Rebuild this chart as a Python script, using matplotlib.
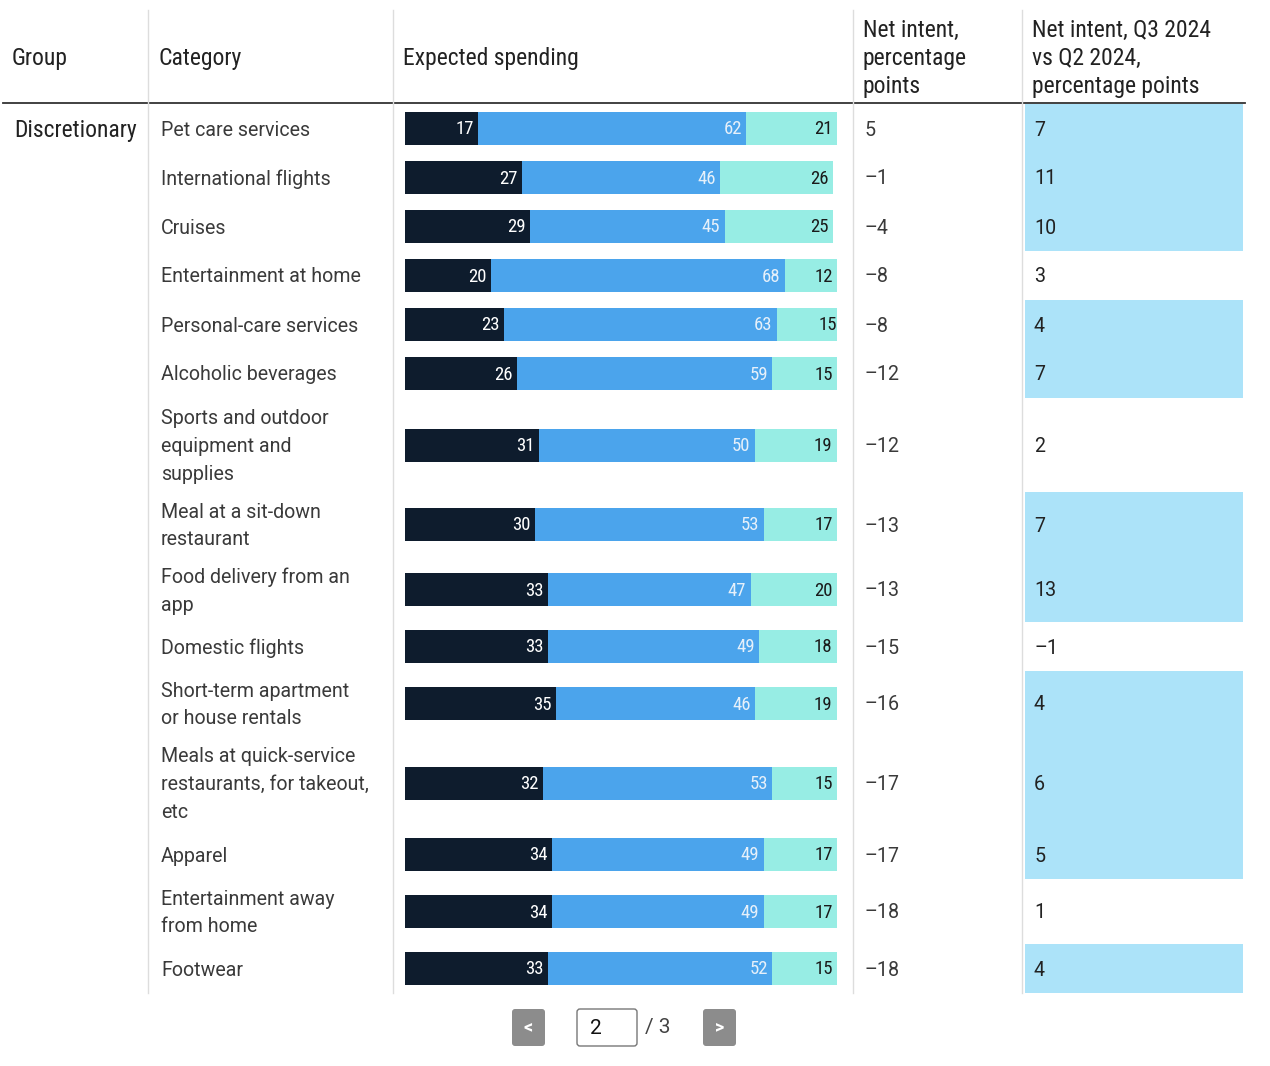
import matplotlib.pyplot as plt
from matplotlib.patches import Rectangle, FancyBboxPatch

# data (page 2 of 3)
group = 'Discretionary'
categories = ['Pet care services', 'International flights', 'Cruises',
              'Entertainment at home', 'Personal-care services', 'Alcoholic beverages',
              'Sports and outdoor\nequipment and\nsupplies',
              'Meal at a sit-down\nrestaurant', 'Food delivery from an\napp',
              'Domestic flights', 'Short-term apartment\nor house rentals',
              'Meals at quick-service\nrestaurants, for takeout,\netc',
              'Apparel', 'Entertainment away\nfrom home', 'Footwear']
decrease = [17, 27, 29, 20, 23, 26, 31, 30, 33, 33, 35, 32, 34, 34, 33]
stay_same = [62, 46, 45, 68, 63, 59, 50, 53, 47, 49, 46, 53, 49, 49, 52]
increase = [21, 26, 25, 12, 15, 15, 19, 17, 20, 18, 19, 15, 17, 17, 15]
net_intent = [5, -1, -4, -8, -8, -12, -12, -13, -13, -15, -16, -17, -17, -18, -18]
net_change = [7, 11, 10, 3, 4, 7, 2, 7, 13, -1, 4, 6, 5, 1, 4]
headers = ['Group', 'Category', 'Expected spending',
           'Net intent,\npercentage\npoints',
           'Net intent, Q3 2024\nvs Q2 2024,\npercentage points']
page, n_pages = 2, 3

W, H = 1270, 1066
dark = '#0e1c2d'
mid = '#4ba4ec'
light = '#97ede4'
hi = '#ace3f9'
txt = '#3a3a3a'
narrow = ['Liberation Sans Narrow', 'Roboto Condensed', 'Liberation Sans', 'DejaVu Sans']
body = ['Roboto', 'DejaVu Sans']

def fmt(v):
    return ('\u2013' + str(-v)) if v < 0 else str(v)

fig = plt.figure(figsize=(W / 100, H / 100), dpi=100)
ax = fig.add_axes([0, 0, 1, 1])
ax.set_xlim(0, W)
ax.set_ylim(H, 0)
ax.axis('off')

# row layout: height depends on how many lines the category wraps to
row_h = {1: 49, 2: 65, 3: 94}
top0 = 104
tops, centers, heights = [], [], []
y = top0
for c in categories:
    h = row_h[c.count('\n') + 1]
    tops.append(y)
    heights.append(h)
    centers.append(y + h / 2)
    y += h
bottom = y
dy = 1.5  # nudge text down to sit like the original

# header
hx = [12, 158, 403, 863, 1032]
for x, t in zip(hx, headers):
    ax.text(x, 58.5, t, ha='left', va='center', fontsize=17, color='#222222',
            family=narrow, linespacing=1.28)
ax.plot([3, 1245], [103, 103], color='#333333', lw=1.3)
for x in [148, 393, 853, 1022]:
    ax.plot([x, x], [10, bottom], color='#dddddd', lw=1)

# highlighted change cells
for t, h, v in zip(tops, heights, net_change):
    if v >= 4:
        ax.add_patch(Rectangle((1025, t), 218, h, color=hi, lw=0))

ax.text(14, centers[0] + dy, group, ha='left', va='center', fontsize=17,
        color='#222222', family=narrow)
for c, cat, ni, nc in zip(centers, categories, net_intent, net_change):
    ax.text(161, c + dy, cat, ha='left', va='center', fontsize=14.1, color=txt,
            family=body, linespacing=1.58)
    ax.text(865, c + dy, fmt(ni), ha='left', va='center', fontsize=14.1, color=txt, family=body)
    ax.text(1034, c + dy, fmt(nc), ha='left', va='center', fontsize=14.1, color='#222222', family=body)

# stacked bars in their own axes, 0-100 %
bx = fig.add_axes([405 / W, (H - bottom) / H, 432 / W, (bottom - top0) / H])
bx.set_xlim(0, 100)
bx.set_ylim(bottom, top0)
bx.axis('off')
left2 = [a + b for a, b in zip(decrease, stay_same)]
bx.barh(centers, decrease, height=33, color=dark, lw=0)
bx.barh(centers, stay_same, left=decrease, height=33, color=mid, lw=0)
bx.barh(centers, increase, left=left2, height=33, color=light, lw=0)
for c, d, s, i in zip(centers, decrease, left2, increase):
    bx.text(d - 1.0, c + 1, str(d), ha='right', va='center', color='white', fontsize=13.5, family=narrow)
    bx.text(s - 1.0, c + 1, str(s - d), ha='right', va='center', color='#e6f0fa', fontsize=13.5, family=narrow)
    bx.text(s + i - 1.0, c + 1, str(i), ha='right', va='center', color='#1a1a1a', fontsize=13.5, family=narrow)

# pagination
for x0, ch in [(512, '<'), (703, '>')]:
    ax.add_patch(FancyBboxPatch((x0 + 3, 1012), 27, 31, boxstyle='round,pad=3,rounding_size=3',
                                fc='#8c8c8c', ec='none'))
    ax.text(x0 + 16.5, 1027, ch, ha='center', va='center', color='white', fontsize=13,
            family=body, fontweight='bold')
ax.add_patch(FancyBboxPatch((580, 1012), 54, 31, boxstyle='round,pad=3,rounding_size=3',
                            fc='white', ec='#777777', lw=1))
ax.text(590, 1028, str(page), ha='left', va='center', fontsize=15, color='#111111', family=body)
ax.text(645, 1028, '/ ' + str(n_pages), ha='left', va='center', fontsize=15, color='#444444', family=body)

fig.savefig('out.png', dpi=100, facecolor='white')
